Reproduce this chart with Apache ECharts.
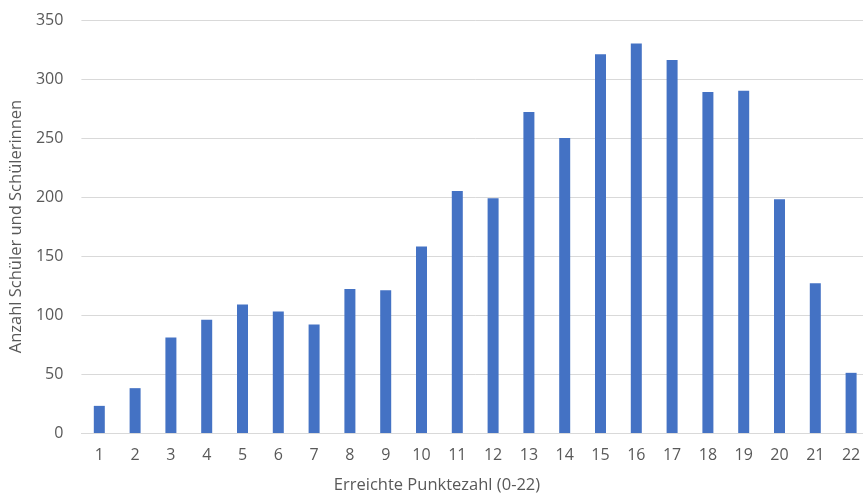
<!DOCTYPE html>
<html>
<head>
<meta charset="utf-8">
<script src="https://cdn.jsdelivr.net/npm/echarts@6/dist/echarts.min.js"></script>
<style>
  html, body { margin: 0; padding: 0; background: #fff; overflow: hidden; }
  /* the plot runs a few pixels past the right edge of the window */
  #chart { width: 869px; height: 500px; }
</style>
</head>
<body>
<div id="chart"></div>
<script>
// Punktezahl 1..22 und Anzahl der Schülerinnen und Schüler je Punktezahl
const categories = ['1','2','3','4','5','6','7','8','9','10','11','12','13','14','15','16','17','18','19','20','21','22'];
const counts = [23, 38, 81, 96, 109, 103, 92, 122, 121, 158, 205, 199, 272, 250, 321, 330, 316, 289, 290, 198, 127, 51];
const yTicks = { min: 0, max: 350, interval: 50 };
const xTitle = 'Erreichte Punktezahl (0-22)';
const yTitle = 'Anzahl Schüler und Schülerinnen';

const textColor = '#595959';
const fontFamily = '"Open Sans", "Noto Sans", sans-serif';

const chart = echarts.init(document.getElementById('chart'));
chart.setOption({
  animation: false,
  backgroundColor: '#ffffff',
  grid: { left: 81.4, top: 20, right: 0, bottom: 67, containLabel: false },
  xAxis: {
    type: 'category',
    data: categories,
    axisLine: { show: true, lineStyle: { color: '#d9d9d9', width: 1 } },
    axisTick: { show: false },
    axisLabel: { color: textColor, fontSize: 16, fontFamily: fontFamily, margin: 14 }
  },
  yAxis: {
    type: 'value',
    min: yTicks.min,
    max: yTicks.max,
    interval: yTicks.interval,
    name: yTitle,
    nameLocation: 'middle',
    nameGap: 55,
    nameTextStyle: { color: textColor, fontSize: 16.5, fontFamily: fontFamily },
    axisLine: { show: false },
    axisTick: { show: false },
    axisLabel: { color: textColor, fontSize: 16, fontFamily: fontFamily, margin: 18 },
    splitLine: { lineStyle: { color: '#d9d9d9', width: 1 } }
  },
  graphic: [{
    type: 'text',
    x: 437,
    y: 477,
    style: { text: xTitle, fill: textColor, fontSize: 16.5, fontFamily: fontFamily, textAlign: 'center' }
  }],
  series: [{
    type: 'bar',
    data: counts,
    barWidth: 11,
    itemStyle: { color: '#4472c4' }
  }]
});
</script>
</body>
</html>
